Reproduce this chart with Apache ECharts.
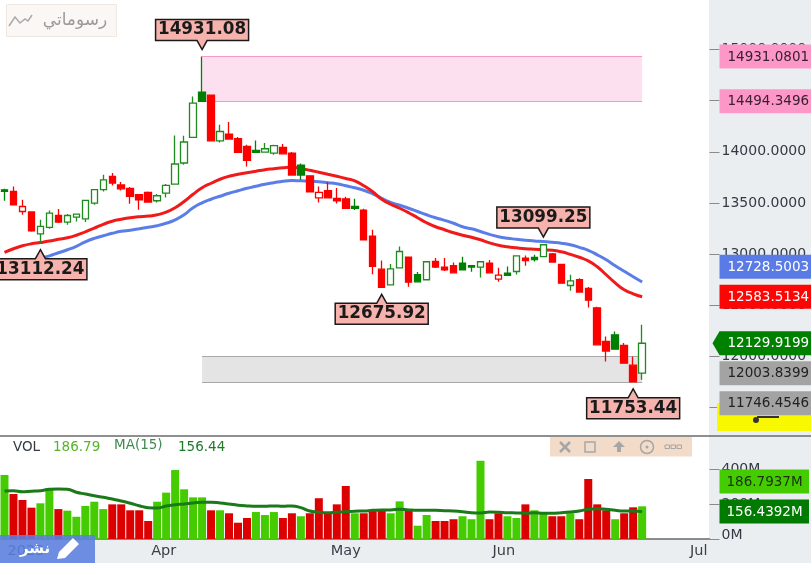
<!DOCTYPE html>
<html><head><meta charset="utf-8">
<script src="https://cdn.jsdelivr.net/npm/echarts@6/dist/echarts.min.js"></script>
<style>html,body{margin:0;padding:0;background:#fff}#c{width:811px;height:563px}</style></head>
<body><div id="c"></div>
<script>
// [open, close, low, high]
const candles = [
[13629,13615,13522,13639],[13613,13483,13483,13662],[13417,13466,13385,13532],[13412,13229,13219,13414],
[13199,13271,13112.24,13336],[13261,13402,13248,13427],[13378,13314,13304,13441],[13314,13378,13287,13392],
[13363,13392,13320,13398],[13346,13525,13314,13532],[13499,13630,13483,13636],[13630,13727,13613,13776],
[13759,13695,13672,13793],[13676,13639,13623,13705],[13642,13564,13493,13656],[13581,13532,13434,13587],
[13603,13509,13502,13613],[13522,13571,13505,13587],[13597,13672,13554,13685],[13685,13881,13678,14160],
[13891,14096,13874,14157],[14141,14477,14135,14541],[14584,14494.35,14493,14931.08],[14555,14108,14108,14555],
[14108,14199,14092,14265],[14174,14125,14125,14291],[14128,13994,13988,14145],[14053,13916,13857,14069],
[14014,13994,13994,14111],[13998,14030,13994,14086],[13988,14060,13972,14069],[14043,13981,13978,14076],
[13988,13773,13769,13998],[13871,13773,13727,13887],[13766,13610,13610,13766],[13551,13603,13505,13662],
[13620,13551,13548,13705],[13544,13522,13496,13646],[13541,13447,13444,13561],[13466,13447,13431,13541],
[13431,13141,13141,13444],[13177,12880,12805,13238],[12854,12675.92,12675.92,12938],[12701,12857,12694,12903],
[12867,13026,12860,13075],[12972,12727,12681,12975],[12799,12730,12727,12825],[12750,12926,12747,12929],
[12929,12874,12864,12962],[12874,12848,12835,12962],[12887,12818,12815,12919],[12913,12848,12845,12974],
[12889,12874,12828,12893],[12874,12926,12772,12929],[12913,12818,12815,12942],[12757,12796,12730,12867],
[12815,12792,12789,12880],[12831,12984,12802,12987],[12962,12938,12887,12987],[12968,12948,12929,12994],
[12977,13092,12977,13099.25],[13004,12923,12919,13011],[12899,12717,12714,12899],[12694,12740,12642,12799],
[12750,12630,12626,12766],[12665,12551,12479,12679],[12476,12114,12114,12486],[12147,12053,11951,12196],
[12212,12072,12072,12244],[12108,11935,11929,12131],[11916,11753.44,11753.44,12000],[11838,12129.92,11772,12310]
];
// h hollow green, g filled green, r filled red, o hollow red
const candleKinds = 'grorhhrhhhhhrrrrrhhhhhgrhrrrghhrrgrorrrgrrrhhrghrrrgghroghrghrrhrrrrgrrh';
const redAverage = [13017,13053,13082,13102,13114,13128,13146,13160,13185,13219,13255,13292,13322,13341,13356,13366,13372,13385,13410,13454,13515,13586,13649,13693,13732,13761,13781,13796,13810,13825,13835,13845,13851,13837,13820,13801,13781,13761,13740,13717,13669,13610,13537,13488,13449,13405,13356,13307,13268,13239,13209,13185,13165,13141,13111,13087,13072,13062,13053,13048,13043,13038,13023,12999,12970,12935,12877,12799,12720,12652,12613,12583.51];
const blueAverage = [12857,12887,12911,12935,12960,12984,13014,13043,13077,13121,13155,13180,13204,13224,13234,13248,13263,13278,13302,13336,13385,13454,13502,13537,13566,13595,13620,13644,13664,13683,13698,13713,13720,13717,13713,13708,13698,13688,13669,13649,13625,13590,13546,13507,13478,13449,13417,13385,13356,13331,13302,13268,13248,13222,13194,13170,13155,13146,13136,13129,13124,13116,13107,13092,13067,13038,12994,12945,12887,12833,12779,12728.5];
const volumes = [366,257,223,179,204,290,171,162,127,189,213,171,198,198,164,164,103,213,265,394,284,238,238,164,164,147,93,120,154,137,154,120,147,130,147,233,147,198,303,147,147,164,164,147,215,164,76,137,103,103,113,130,113,447,113,147,130,120,198,164,147,130,130,147,113,343,198,164,113,147,181,186.79];
const volumeAverage = [274,276,270,273,276,284,286,284,267,257,247,238,229,217,204,190,179,177,189,196,200,206,210,210,206,200,193,189,187,187,189,187,189,179,160,153,150,153,156,159,160,164,166,166,170,166,164,164,164,162,160,156,150,149,154,153,150,149,147,150,147,147,150,154,160,170,173,170,164,160,160,156.44];
const monthLabels = ['2023','Apr','May','Jun','Jul'];
const monthIndexes = [0,16,36,54,76];
const slotCount = 79;
const pinkZone = [14931.08,14494.35];
const greyZone = [12003.84,11746.45];
const zoneStart = 22, zoneEnd = 71;
const calloutIndexes = [22,4,42,60,70];
const calloutValues = [14931.08,13112.24,12675.92,13099.25,11753.44];
const calloutAbove = [true,false,false,true,false];
const priceTagValues = [14931.0801,14494.3496,12728.5003,12583.5134,12129.9199,12003.8399,11746.4546];
const priceTagFills = ['#fd97c8','#fd97c8','#5a7be6','#fc0505','#008000','#a3a3a3','#a3a3a3'];
const priceTagInks = ['#3a2030','#3a2030','#ffffff','#ffffff','#ffffff','#222222','#222222'];
const volumeTagValues = [186.7937,156.4392];
const volumeTagFills = ['#44cc00','#007a00'];
const volumeTagInks = ['#1c3010','#ffffff'];

const categories = Array(slotCount).fill('');
monthIndexes.forEach((k,n)=>categories[k]=monthLabels[n]);
const kindStyle = {
  h:{fill:'#ffffff',line:'#1f8a1f'}, g:{fill:'#008000',line:'#008000'},
  r:{fill:'#fc0000',line:'#fc0000'}, o:{fill:'#ffffff',line:'#fc0000'}
};
const candleData = candles.map((c,i)=>{
  const s = kindStyle[candleKinds[i]];
  return {value:c,itemStyle:{color:s.fill,color0:s.fill,borderColor:s.line,borderColor0:s.line,borderWidth:1.3}};
});
const volumeData = volumes.map((v,i)=>({value:v,itemStyle:{color:'hg'.includes(candleKinds[i])?'#44cc00':'#dd0000'}}));

function calloutItem(params,api){
  const i = params.dataIndex;
  const p = api.coord([api.value(0),api.value(1)]);
  const dir = calloutAbove[i]?-1:1, w=46.5;
  const tip = p[1]+dir*7, near = tip+dir*9, far = near+dir*21;
  return {type:'group',children:[
    {type:'polygon',shape:{points:[[p[0],tip],[p[0]+5,near],[p[0]+w,near],[p[0]+w,far],[p[0]-w,far],[p[0]-w,near],[p[0]-5,near]]},
     style:{fill:'#f6b3ad',stroke:'#1a1a1a',lineWidth:1.5}},
    {type:'text',style:{text:calloutValues[i].toFixed(2),x:p[0],y:(near+far)/2,textAlign:'center',textVerticalAlign:'middle',
      font:'bold 16.8px "DejaVu Sans"',fill:'#1a1a1a'}}
  ]};
}
function tagItem(values,fills,inks,anchor,suffix){
  const sep = 30;
  return function(params,api){
    const i = params.dataIndex;
    const ys = values.map(v=>api.coord([0,v])[1]);
    for(let k=anchor-1;k>=0;k--) ys[k]=Math.min(ys[k],ys[k+1]-sep);
    for(let k=anchor+1;k<ys.length;k++) ys[k]=Math.max(ys[k],ys[k-1]+sep);
    if(anchor===4 && i<2) ys[i]=api.coord([0,values[i]])[1];
    const right = params.coordSys.x+params.coordSys.width;
    const x = right+10, y = ys[i], h=12;
    const pointed = anchor===4 && i===anchor;
    const end = suffix ? 809 : 811;
    const pts = pointed
      ? [[x-7,y],[x,y-h],[end,y-h],[end,y+h],[x,y+h]]
      : [[x,y-h],[end,y-h],[end,y+h],[x,y+h]];
    return {type:'group',children:[
      {type:'polygon',shape:{points:pts},style:{fill:fills[i]}},
      {type:'text',style:{text:values[i].toFixed(4)+suffix,x:x+(suffix?7:8),y:y+0.5,textAlign:'left',textVerticalAlign:'middle',
        font:'13.5px "DejaVu Sans"',fill:inks[i]}}
    ]};
  };
}
const G = '#a6a6a6';
const graphicEls = [
  {type:'rect',z:-5,shape:{x:709,y:0,width:102,height:563},style:{fill:'#ebeef0'}},
  {type:'rect',z:-5,shape:{x:0,y:539,width:811,height:24},style:{fill:'#ebeef0'}},
  {type:'rect',z:100,shape:{x:717,y:403,width:94,height:28},style:{fill:'#f8f800'}},
  {type:'rect',z:101,shape:{x:757,y:416,width:22,height:2},style:{fill:'#333'}},
  {type:'circle',z:101,shape:{cx:756,cy:420,r:3},style:{fill:'#333'}},
  {type:'line',z:100,shape:{x1:0,y1:436,x2:811,y2:436},style:{stroke:'#6a6a6a',lineWidth:1.5}},
  {type:'rect',z:100,shape:{x:6.5,y:4.5,width:110,height:32},style:{fill:'#faf7f4',stroke:'#efe8e2'}},
  {type:'polyline',z:101,shape:{points:[[9,26],[15,17],[20,23],[25,19],[28,21],[32,15]]},style:{fill:'none',stroke:'#aaaaaa',lineWidth:1.5}},
  {type:'text',z:101,style:{text:'رسوماتي',x:75,y:21,textAlign:'center',textVerticalAlign:'middle',font:'17px "DejaVu Sans"',fill:'#9a9a9a'}},
  {type:'rect',z:100,shape:{x:550,y:437,width:142,height:19.5},style:{fill:'#f2dcc9'}},
  {type:'line',z:101,shape:{x1:560,y1:442,x2:570,y2:452},style:{stroke:G,lineWidth:2.5}},
  {type:'line',z:101,shape:{x1:570,y1:442,x2:560,y2:452},style:{stroke:G,lineWidth:2.5}},
  {type:'rect',z:101,shape:{x:585,y:442,width:10,height:10},style:{fill:'none',stroke:G,lineWidth:1.5}},
  {type:'polygon',z:101,shape:{points:[[619,441],[625,447],[621,447],[621,452],[617,452],[617,447],[613,447]]},style:{fill:G}},
  {type:'circle',z:101,shape:{cx:647,cy:447,r:6.5},style:{fill:'none',stroke:G,lineWidth:1.5}},
  {type:'circle',z:101,shape:{cx:647,cy:447,r:1.5},style:{fill:G}},
  {type:'rect',z:101,shape:{x:665,y:445,width:4.5,height:3.5},style:{fill:'none',stroke:G}},
  {type:'rect',z:101,shape:{x:671,y:445,width:4.5,height:3.5},style:{fill:'none',stroke:G}},
  {type:'rect',z:101,shape:{x:677,y:445,width:4.5,height:3.5},style:{fill:'none',stroke:G}},
  {type:'text',z:101,style:{text:'VOL',x:13,y:447,textVerticalAlign:'middle',font:'13.5px "DejaVu Sans"',fill:'#333a44'}},
  {type:'text',z:101,style:{text:'186.79',x:53,y:447,textVerticalAlign:'middle',font:'13.5px "DejaVu Sans"',fill:'#55b52a'}},
  {type:'text',z:101,style:{text:'MA(15)',x:114,y:445,textVerticalAlign:'middle',font:'13.5px "DejaVu Sans"',fill:'#3e8a50'}},
  {type:'text',z:101,style:{text:'156.44',x:178,y:447,textVerticalAlign:'middle',font:'13.5px "DejaVu Sans"',fill:'#1f7a2a'}},
  {type:'rect',z:100,shape:{x:0,y:535,width:95,height:28},style:{fill:'#5b7fe0',opacity:0.88}},
  {type:'text',z:101,style:{text:'نشر',x:35,y:549,textAlign:'center',textVerticalAlign:'middle',font:'bold 15px "DejaVu Sans"',fill:'#ffffff'}},
  {type:'polygon',z:101,shape:{points:[[57,559],[59,552],[73,538],[79,544],[65,558]]},style:{fill:'#ffffff'}}
];
const zoneEdge = (value,colour)=>[
  {xAxis:zoneStart,yAxis:value,lineStyle:{color:colour,width:1,type:'solid'}},
  {xAxis:zoneEnd,yAxis:value}
];

const chart = echarts.init(document.getElementById('c'));
chart.setOption({
  animation:false,
  backgroundColor:'#ffffff',
  graphic:{elements:graphicEls},
  grid:[
    {left:-1.5,width:711,top:49.5,height:358.2},
    {left:-1.5,width:711,top:451.5,height:87.5}
  ],
  xAxis:[
    {type:'category',gridIndex:0,data:categories,show:false},
    {type:'category',gridIndex:1,data:categories,boundaryGap:true,
     axisLine:{lineStyle:{color:'#6a6a6a',width:1.5}},
     axisTick:{alignWithLabel:true,inside:true,length:9,interval:(i,v)=>v!=='',lineStyle:{color:'#999'}},
     axisLabel:{interval:(i,v)=>v!=='',align:'left',padding:[0,0,0,3],margin:5,color:'#3a3f48',fontFamily:'DejaVu Sans',fontSize:14.5}}
  ],
  yAxis:[
    {type:'value',gridIndex:0,position:'right',min:11500,max:15000,interval:500,splitLine:{show:false},
     axisLine:{show:false},axisTick:{show:true,length:10,lineStyle:{color:'#8a8a8a'}},
     axisLabel:{margin:12,color:'#333a44',fontFamily:'DejaVu Sans',fontSize:14,formatter:v=>v.toFixed(4)}},
    {type:'value',gridIndex:1,position:'right',min:0,max:500,interval:200,splitLine:{show:false},
     axisLine:{show:false},
     axisTick:{show:true,length:10,customValues:[0,200,400],lineStyle:{color:'#8a8a8a'}},
     axisLabel:{margin:12,lineHeight:8,verticalAlignMinLabel:'bottom',color:'#333a44',fontFamily:'DejaVu Sans',fontSize:14,customValues:[0,200,400],formatter:v=>v+'M'}}
  ],
  series:[
    {name:'Blue average',type:'line',xAxisIndex:0,yAxisIndex:0,data:blueAverage,smooth:true,symbol:'none',z:1,lineStyle:{color:'#5a7de8',width:3}},
    {name:'Red average',type:'line',xAxisIndex:0,yAxisIndex:0,data:redAverage,smooth:true,symbol:'none',z:1,lineStyle:{color:'#f01a1a',width:3}},
    {name:'Price',type:'candlestick',xAxisIndex:0,yAxisIndex:0,barWidth:7,data:candleData,z:3,
     markArea:{silent:true,z:1,data:[
       [{xAxis:zoneStart,yAxis:pinkZone[0],itemStyle:{color:'#fde0f0'}},{xAxis:zoneEnd,yAxis:pinkZone[1]}],
       [{xAxis:zoneStart,yAxis:greyZone[0],itemStyle:{color:'#e4e4e4'}},{xAxis:zoneEnd,yAxis:greyZone[1]}]
     ]},
     markLine:{silent:true,z:1,symbol:'none',label:{show:false},data:[
       zoneEdge(pinkZone[0],'#f59ac8'),zoneEdge(pinkZone[1],'#f59ac8'),
       zoneEdge(greyZone[0],'#a8a8a8'),zoneEdge(greyZone[1],'#a8a8a8')
     ]}},
    {name:'Volume',type:'bar',xAxisIndex:1,yAxisIndex:1,barWidth:8,data:volumeData,z:2},
    {name:'Volume MA',type:'line',xAxisIndex:1,yAxisIndex:1,data:volumeAverage,smooth:true,symbol:'none',z:3,lineStyle:{color:'#1a7a1a',width:3}},
    {name:'Callouts',type:'custom',xAxisIndex:0,yAxisIndex:0,clip:false,z:50,silent:true,
     data:calloutIndexes.map((k,n)=>[k,calloutValues[n]]),renderItem:calloutItem},
    {name:'Price tags',type:'custom',xAxisIndex:0,yAxisIndex:0,clip:false,z:200,silent:true,
     data:priceTagValues.map(v=>[0,v]),renderItem:tagItem(priceTagValues,priceTagFills,priceTagInks,4,'')},
    {name:'Volume tags',type:'custom',xAxisIndex:1,yAxisIndex:1,clip:false,z:200,silent:true,
     data:volumeTagValues.map(v=>[0,v]),renderItem:tagItem(volumeTagValues,volumeTagFills,volumeTagInks,1,'M')}
  ]
});
</script></body></html>
